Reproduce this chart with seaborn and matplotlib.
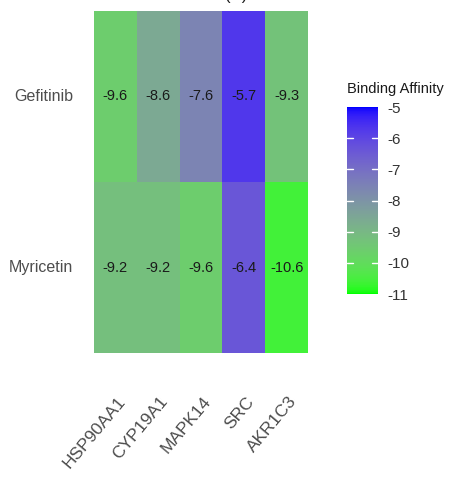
import numpy as np
import pandas as pd
import matplotlib
matplotlib.use("Agg")
import matplotlib.pyplot as plt
from matplotlib.colors import ListedColormap
from matplotlib.transforms import ScaledTranslation
import seaborn as sns

# Docking scores (kcal/mol)
compounds = ["Gefitinib", "Myricetin"]
targets = ["HSP90AA1", "CYP19A1", "MAPK14", "SRC", "AKR1C3"]
gefitinib_scores = [-9.6, -8.6, -7.6, -5.7, -9.3]
myricetin_scores = [-9.2, -9.2, -9.6, -6.4, -10.6]
cbar_ticks = [-5, -6, -7, -8, -9, -10, -11]

scores = pd.DataFrame([gefitinib_scores, myricetin_scores],
                      index=compounds, columns=targets)


# Green -> blue gradient interpolated in CIELAB space
def srgb_to_lab(rgb):
    rgb = np.asarray(rgb, float)
    lin = np.where(rgb <= 0.04045, rgb / 12.92, ((rgb + 0.055) / 1.055) ** 2.4)
    m = np.array([[0.4124, 0.3576, 0.1805],
                  [0.2126, 0.7152, 0.0722],
                  [0.0193, 0.1192, 0.9505]])
    xyz = m @ lin
    xyz = xyz / np.array([0.95047, 1.0, 1.08883])
    f = np.where(xyz > 0.008856, np.cbrt(xyz), 7.787 * xyz + 16 / 116)
    return np.array([116 * f[1] - 16, 500 * (f[0] - f[1]), 200 * (f[1] - f[2])])


def lab_to_srgb(lab):
    L, a, b = lab
    fy = (L + 16) / 116
    fx = fy + a / 500
    fz = fy - b / 200
    f = np.array([fx, fy, fz])
    xyz = np.where(f ** 3 > 0.008856, f ** 3, (f - 16 / 116) / 7.787)
    xyz = xyz * np.array([0.95047, 1.0, 1.08883])
    m = np.array([[3.2406, -1.5372, -0.4986],
                  [-0.9689, 1.8758, 0.0415],
                  [0.0557, -0.2040, 1.0570]])
    lin = m @ xyz
    lin = np.clip(lin, 0, 1)
    rgb = np.where(lin <= 0.0031308, 12.92 * lin, 1.055 * lin ** (1 / 2.4) - 0.055)
    return np.clip(rgb, 0, 1)


low_lab = srgb_to_lab([0.0, 1.0, 0.0])
high_lab = srgb_to_lab([0.0, 0.0, 1.0])
ramp = [lab_to_srgb(low_lab + t * (high_lab - low_lab)) for t in np.linspace(0, 1, 256)]
cmap = ListedColormap(ramp)

sns.set_theme(style="white")
plt.rcParams["font.family"] = ["Liberation Sans", "DejaVu Sans"]
plt.rcParams["axes.unicode_minus"] = False

fig = plt.figure(figsize=(4.63, 4.82), dpi=100)
ax = fig.add_axes([94 / 463, 1 - 353 / 482, 214 / 463, 342 / 482])
cax = fig.add_axes([347 / 463, 1 - 294 / 482, 31 / 463, 187 / 482])

sns.heatmap(scores, ax=ax, cbar_ax=cax, cmap=cmap, vmin=-11, vmax=-5,
            annot=True, fmt=".1f", linewidths=0,
            annot_kws={"fontsize": 10.5, "color": "#1a1a1a"})

ax.tick_params(axis="both", length=0)
ax.set_yticklabels(compounds, rotation=0, fontsize=11.5, color="#4d4d4d")
ax.tick_params(axis="y", pad=15)
ax.set_xticklabels(targets, rotation=50, ha="right", va="center",
                   rotation_mode="anchor", fontsize=12.5, color="#4d4d4d")
ax.tick_params(axis="x", pad=33)
shift = ScaledTranslation(7 / 100, 0, fig.dpi_scale_trans)
for lbl in ax.get_xticklabels():
    lbl.set_transform(lbl.get_transform() + shift)

# Legend bar in the ggplot style: no frame, short white tick marks inside
cbar = ax.collections[0].colorbar
cbar.outline.set_visible(False)
cbar.set_ticks(cbar_ticks)
cbar.ax.tick_params(length=0, labelsize=11, labelcolor="#333333", pad=7)
for v in cbar_ticks[1:-1]:
    cax.plot([0, 0.2], [v, v], color="white", lw=1, transform=cax.get_yaxis_transform())
    cax.plot([0.8, 1], [v, v], color="white", lw=1, transform=cax.get_yaxis_transform())
fig.text(347 / 463, 1 - 93 / 482, "Binding Affinity", fontsize=10.5,
         color="#1a1a1a", ha="left", va="baseline")

fig.text(236 / 463, 1 - 3 / 482, "(A)", fontsize=12, ha="center", va="bottom",
         color="#1a1a1a")

fig.savefig("out.png", dpi=100, facecolor="white")
